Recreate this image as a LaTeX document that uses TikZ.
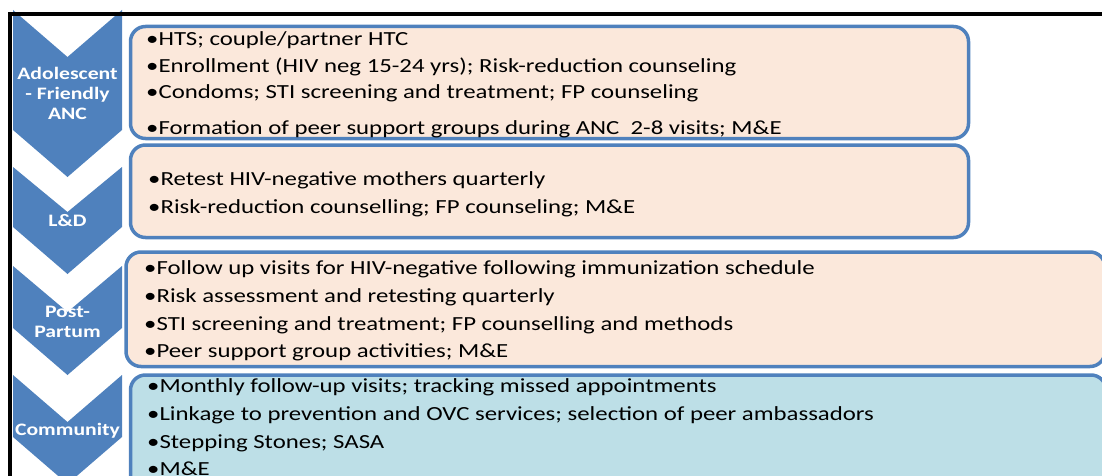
\documentclass[tikz,border=0pt]{standalone}
\usepackage{fontspec}
\setmainfont{Carlito}[FakeStretch=1.24]
\usetikzlibrary{positioning}
\definecolor{chevblue}{HTML}{4F81BD}
\definecolor{peach}{HTML}{FBE8DB}
\definecolor{aqua}{HTML}{BDDFE7}

\begin{document}
\begin{tikzpicture}[x=1pt,y=-1pt,
    stage/.style={text=white,inner sep=0pt,align=center,anchor=base,font=\fontsize{17.5}{20}\selectfont\bfseries},
    plan/.style={draw=chevblue,line width=3.5pt,rounded corners=15pt},
    items/.style={anchor=base west,inner sep=0pt,align=left,font=\fontsize{20}{28}\selectfont}]
    \useasboundingbox (0,0) rectangle (1102,476);

    % Chevrons
    \fill[chevblue] (13,10) -- (67.5,57) -- (122,10) -- (122,130) -- (67.5,177) -- (13,130) -- cycle;
    \fill[chevblue] (13,167) -- (67.5,212) -- (122,167) -- (122,227) -- (67.5,274) -- (13,227) -- cycle;
    \fill[chevblue] (13,266) -- (67.5,312) -- (122,266) -- (122,328) -- (67.5,375) -- (13,328) -- cycle;
    \fill[chevblue] (13,375) -- (67.5,422) -- (122,375) -- (122,437) -- (67.5,484) -- (13,437) -- cycle;

    % base anchor sits on the last line
    \node[stage] (anc) at (67.5,120) {Adolescent\\- Friendly\\ANC};
    \node[stage] (ld) at (67.5,226) {L\&D};
    \node[stage] (post) at (67.5,337) {Post-\\Partum};
    \node[stage] (comm) at (67.5,435) {Community};

    % Boxes
    \draw[plan,fill=peach] (130.5,26.5) rectangle (968.5,138.5);
    \draw[plan,fill=peach] (130.5,145) rectangle (968.5,237.5);
    \draw[plan,fill=peach] (126,252) rectangle (1105,366.5);
    \draw[plan,fill=aqua] (130.5,375) rectangle (1106,495);

    \node[items] (ancitems) at (146,135) {•HTS; couple/partner HTC\\[-1pt]
        •Enrollment (HIV neg 15-24 yrs); Risk-reduction counseling\\[-2pt]
        •Condoms; STI screening and treatment; FP counseling\\[8pt]
        •Formation of peer support groups during ANC\ \ 2-8 visits; M\&E};
    \node[items] (lditems) at (148,213) {•Retest HIV-negative mothers quarterly\\
        •Risk-reduction counselling; FP counseling; M\&E};
    \node[items] (postitems) at (144,357) {•Follow up visits for HIV-negative following immunization schedule\\
        •Risk assessment and retesting quarterly\\
        •STI screening and treatment; FP counselling and methods\\[-1pt]
        •Peer support group activities; M\&E};
    \node[items] (commitems) at (147,475) {•Monthly follow-up visits; tracking missed appointments\\
        •Linkage to prevention and OVC services; selection of peer ambassadors\\
        •Stepping Stones; SASA\\[-1pt]
        •M\&E};

    % Frame
    \draw[line width=4pt] (10,476) -- (10,14) -- (1102,14);
\end{tikzpicture}
\end{document}
